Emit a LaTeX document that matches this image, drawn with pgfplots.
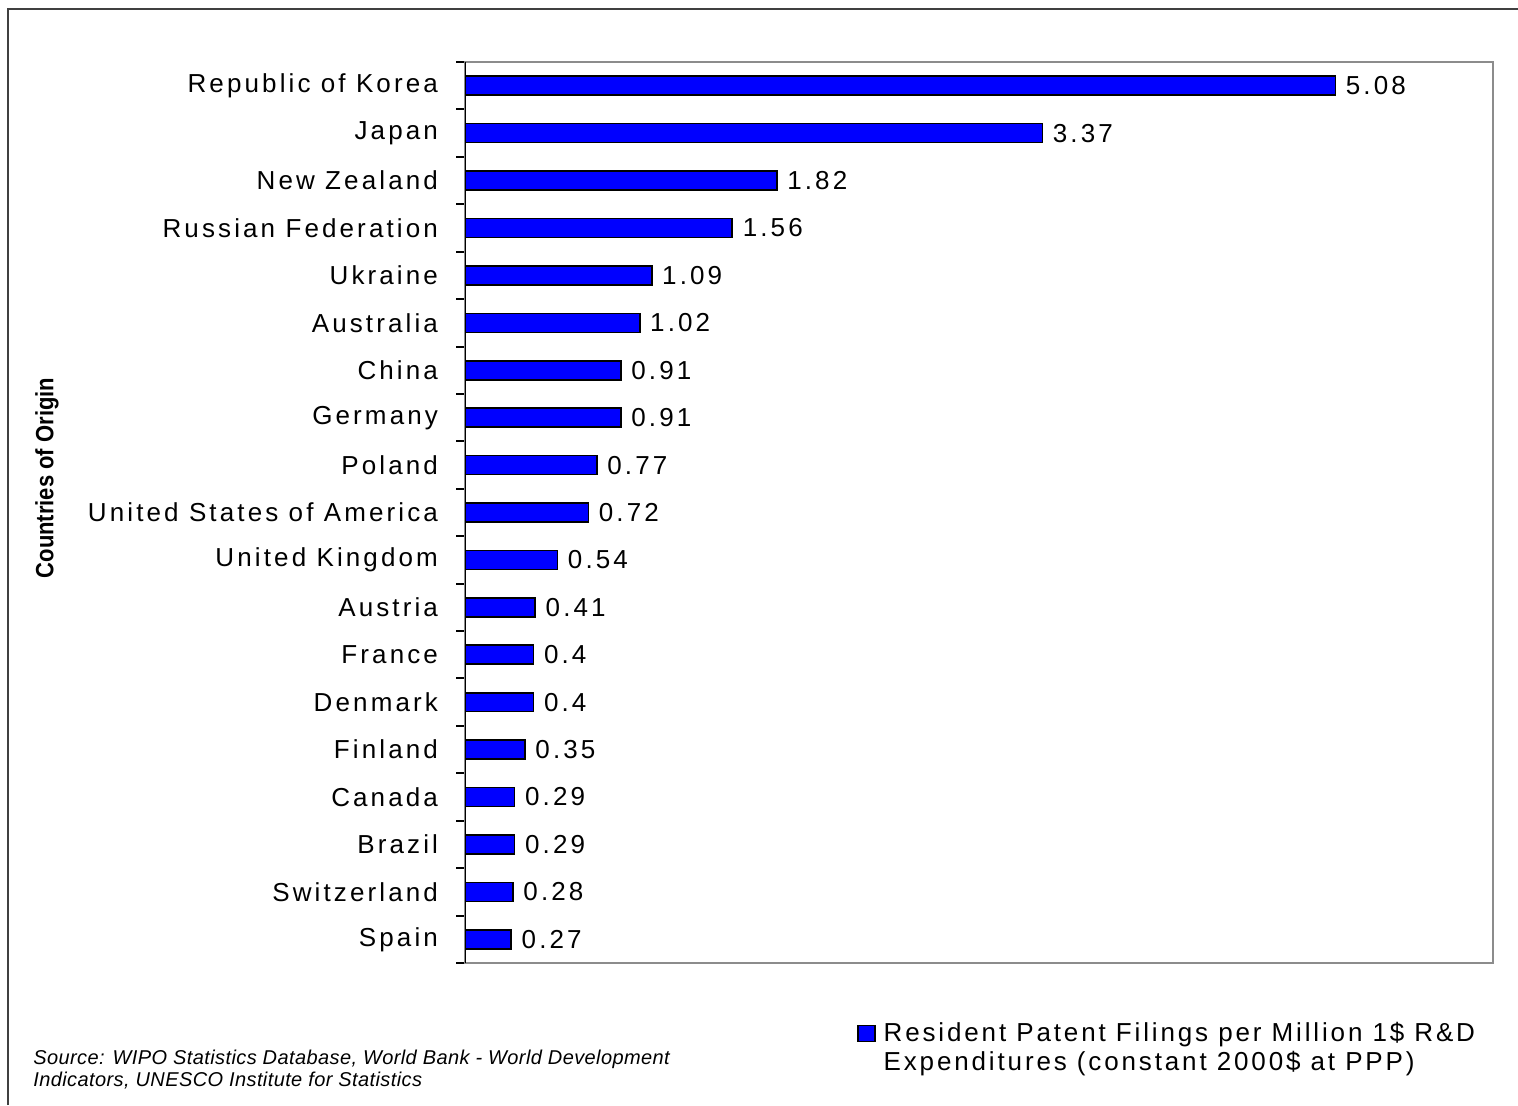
\documentclass[border=0pt]{standalone}
\usepackage{fontspec}
\usepackage{pgfplots}
\pgfplotsset{compat=1.18}
\setmainfont{Liberation Sans}
\newfontfamily\lab[LetterSpace=12]{Liberation Sans}
\newfontfamily\leg[LetterSpace=11]{Liberation Sans}
\newfontfamily\src[LetterSpace=2]{Liberation Sans}
\begin{document}
\begin{tikzpicture}
\path[use as bounding box] (0,0) rectangle (759pt,-552.5pt);
\draw[line width=1.2pt, black!75] (4pt,-552.5pt) -- (4pt,-4.5pt) -- (759pt,-4.5pt);
\begin{axis}[
  at={(232.5pt,-481.5pt)}, anchor=south west,
  scale only axis, width=514pt, height=450.5pt,
  xbar, xmin=0, xmax=6, ymin=-0.5, ymax=18.5,
  bar width=0.4,
  xtick=\empty,
  ytick={0,...,18},
  yticklabels={Spain,Switzerland,Brazil,Canada,Finland,Denmark,France,Austria,United Kingdom,United States of America,Poland,Germany,China,Australia,Ukraine,Russian Federation,New Zealand,Japan,Republic of Korea},
  minor ytick={-0.5,0.5,...,18.5},
  ytick pos=left,
  tick align=outside,
  major tick length=0pt, minor tick length=4.5pt,
  minor tick style={black, line width=1pt},
  major tick style={draw=none},
  axis line style={black!45, line width=1pt},
  yticklabel style={font=\lab\fontsize{13}{15}\selectfont, xshift=-10pt},
  point meta=x,
  nodes near coords,
  nodes near coords style={font=\lab\fontsize{13}{15}\selectfont, black, xshift=1.5pt},
  /pgf/number format/fixed, /pgf/number format/precision=2,
  /pgf/number format/assume math mode=true,
  legend style={draw=none, fill=none, inner sep=0pt, column sep=2pt,
    at={(axis description cs:0.381,-0.061)}, anchor=north west,
    font=\leg\fontsize{13}{14.5}\selectfont},
  legend cell align=left,
]
\addplot[fill=blue, draw=black, line width=0.8pt,
  legend image code/.code={\draw[fill=blue, draw=black, line width=0.8pt] (0pt,-4pt) rectangle (8.5pt,4pt);}]
  coordinates {
  (0.27,0) (0.28,1) (0.29,2) (0.29,3) (0.35,4) (0.4,5) (0.4,6) (0.41,7)
  (0.54,8) (0.72,9) (0.77,10) (0.91,11) (0.91,12) (1.02,13) (1.09,14)
  (1.56,15) (1.82,16) (3.37,17) (5.08,18)
  };
\addlegendentry{\parbox[t]{330pt}{Resident Patent Filings per Million 1\$ R\&D\\Expenditures (constant 2000\$ at PPP)}}
\draw[black, line width=1.2pt] (rel axis cs:0,0) -- (rel axis cs:0,1);
\end{axis}
\node[rotate=90, font=\bfseries\fontsize{12.5}{14}\selectfont] at (23.5pt,-239pt) {\scalebox{0.88}[1]{Countries of Origin}};
\node[anchor=base west, inner sep=0pt, font=\src\itshape\fontsize{10}{11}\selectfont] at (16.5pt,-532pt) {Source: WIPO Statistics Database, World Bank - World Development};
\node[anchor=base west, inner sep=0pt, font=\src\itshape\fontsize{10}{11}\selectfont] at (16.5pt,-543pt) {Indicators, UNESCO Institute for Statistics};
\end{tikzpicture}
\end{document}
